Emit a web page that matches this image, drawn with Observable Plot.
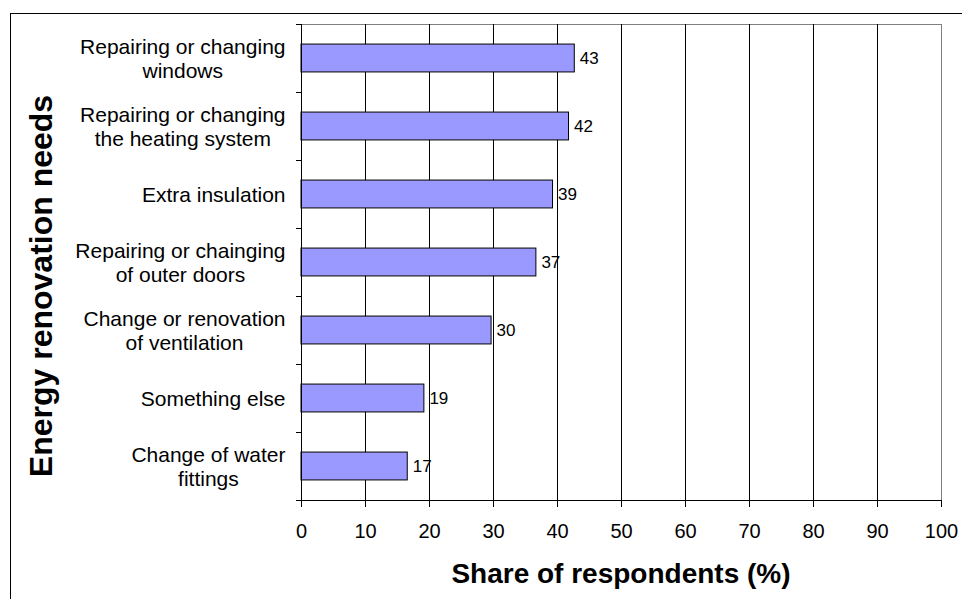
<!DOCTYPE html>
<html>
<head>
<meta charset="utf-8">
<script src="https://cdn.jsdelivr.net/npm/d3@7"></script>
<script src="https://cdn.jsdelivr.net/npm/@observablehq/plot@0.6"></script>
<style>
  html, body { margin: 0; padding: 0; background: #fff; overflow: hidden; }
  #wrap { position: relative; width: 962px; height: 599px; }
  #border { position: absolute; left: 10px; top: 13px; width: 970px; height: 600px; border: 1px solid #000; box-sizing: border-box; }
  #chart { position: absolute; left: 0; top: 0; }
  svg { font-family: "Liberation Sans", Arial, sans-serif; }
</style>
</head>
<body>
<div id="wrap"><div id="border"></div><div id="chart"></div></div>
<script>
const categories = [
  "Repairing or changing\nwindows",
  "Repairing or changing\nthe heating system",
  "Extra insulation",
  "Repairing or chainging\nof outer doors",
  "Change or renovation\nof ventilation",
  "Something else",
  "Change of water\nfittings"
];
const values = [42.7, 41.8, 39.3, 36.7, 29.7, 19.2, 16.6];
const valueLabels = ["43", "42", "39", "37", "30", "19", "17"];
const xTicks = [0, 10, 20, 30, 40, 50, 60, 70, 80, 90, 100];
const xTitle = "Share of respondents (%)";
const yTitle = "Energy renovation needs";

const data = categories.map((c, i) => ({category: c, i, value: values[i], label: valueLabels[i]}));
const bandTicks = d3.range(0, categories.length + 1);

const chart = Plot.plot({
  width: 962,
  height: 599,
  marginLeft: 301,
  marginRight: 21,
  marginTop: 24,
  marginBottom: 99,
  style: {fontFamily: '"Liberation Sans", Arial, sans-serif', background: "transparent", color: "#000"},
  x: {domain: [0, 100]},
  y: {domain: [0, categories.length], reverse: true},
  marks: [
    Plot.frame({stroke: "#808080", strokeWidth: 1}),
    Plot.ruleX(xTicks.filter(t => t > 0 && t < 100), {stroke: "#000", strokeWidth: 1}),
    Plot.rectX(data, {
      x1: 0, x2: "value",
      y1: d => d.i + 0.295, y2: d => d.i + 0.705,
      fill: "#9999FF", stroke: "#000", strokeWidth: 1
    }),
    Plot.ruleX([0], {stroke: "#000", strokeWidth: 1}),
    Plot.ruleY([categories.length], {stroke: "#000", strokeWidth: 1}),
    Plot.axisX({ticks: xTicks, tickSize: 7, tickPadding: 16, fontSize: 20, label: null, stroke: "#000"}),
    Plot.axisY({ticks: bandTicks, tickSize: 5, tickFormat: () => "", label: null, stroke: "#000"}),
    Plot.text(data, {
      y: d => d.i + 0.5, text: "category",
      frameAnchor: "left", dx: -16, textAnchor: "end",
      lineHeight: 1.143, fontSize: 21, fill: "#000"
    }),
    Plot.text(data, {
      x: "value", y: d => d.i + 0.5, text: "label",
      dx: 5, textAnchor: "start", fontSize: 17, fill: "#000"
    })
  ]
});

document.getElementById("chart").appendChild(chart);

// Centre the lines of each category label within a right-aligned block
const flat = new Set(categories.map(c => c.replace(/\n/g, "")));
d3.select(chart).selectAll("text").each(function() {
  if (!flat.has(this.textContent)) return;
  const text = d3.select(this);
  const spans = text.selectAll("tspan");
  let maxW = 0;
  if (spans.empty()) {
    maxW = this.getComputedTextLength();
    text.attr("text-anchor", "middle").attr("x", -maxW / 2);
  } else {
    spans.each(function() { maxW = Math.max(maxW, this.getComputedTextLength()); });
    text.attr("text-anchor", "middle").style("text-anchor", "middle");
    spans.attr("x", -maxW / 2);
  }
});

// Axis titles
const svg = d3.select(chart);
svg.append("text")
  .attr("x", 621).attr("y", 583)
  .attr("text-anchor", "middle")
  .attr("font-size", 28).attr("font-weight", "bold")
  .attr("fill", "#000")
  .text(xTitle);
svg.append("text")
  .attr("transform", "translate(52,286) rotate(-90)")
  .attr("text-anchor", "middle")
  .attr("font-size", 32).attr("font-weight", "bold")
  .attr("fill", "#000")
  .text(yTitle);
</script>
</body>
</html>
